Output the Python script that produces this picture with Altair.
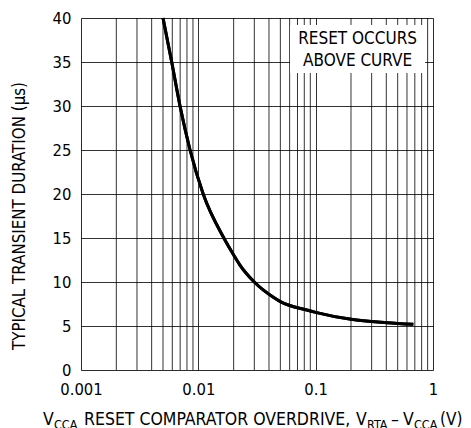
import altair as alt
import pandas as pd

# Curve
overdrive = [0.005, 0.00593, 0.00698, 0.0085, 0.011, 0.0165, 0.02, 0.0227, 0.030, 0.0436, 0.05, 0.084, 0.1, 0.2, 0.404, 0.68]
duration = [40, 35, 30, 25, 20, 15, 13.07, 11.9, 10, 8.26, 7.77, 6.82, 6.55, 5.76, 5.38, 5.19]

x_decades = [0.001, 0.01, 0.1, 1]
x_minor = [m * d for d in [0.001, 0.01, 0.1] for m in range(2, 10)]
y_ticks = [0, 5, 10, 15, 20, 25, 30, 35, 40]

note_lines = ["RESET OCCURS", "ABOVE CURVE"]
note_x = [0.2276, 0.2276]
note_y = [37.6, 35.1]
box = {"x1": [0.0605], "x2": [0.857], "y1": [39.2], "y2": [33.75]}

FONT = "DejaVu Sans Condensed, Liberation Sans Narrow, sans-serif"

xs = alt.Scale(type="log", domain=[0.001, 1])
ys = alt.Scale(domain=[0, 40])

curve_df = pd.DataFrame({"x": overdrive, "y": duration})

base = alt.Chart(curve_df).mark_line(color="black", strokeWidth=3, interpolate="monotone").encode(
    x=alt.X("x:Q", scale=xs, axis=alt.Axis(values=x_decades, format="~g", grid=True, gridColor="black",
                                            gridOpacity=0.8, ticks=False, domain=False, labelPadding=11,
                                            labelFont=FONT, labelFontSize=16.5, labelColor="black",
                                            labelFlush=False, title=None)),
    y=alt.Y("y:Q", scale=ys, axis=alt.Axis(values=y_ticks, grid=True, gridColor="black", gridOpacity=0.8,
                                            ticks=False, domain=False, labelPadding=10, labelFont=FONT,
                                            labelFontSize=16.5, labelColor="black", title=None)),
)

minor = alt.Chart(pd.DataFrame({"x": x_minor})).mark_rule(color="black", opacity=0.8, strokeWidth=1).encode(
    x=alt.X("x:Q", scale=xs)
)

box_layer = alt.Chart(pd.DataFrame(box)).mark_rect(color="white").encode(
    x=alt.X("x1:Q", scale=xs), x2="x2:Q", y=alt.Y("y1:Q", scale=ys), y2="y2:Q"
)

note = alt.Chart(pd.DataFrame({"t": note_lines, "x": note_x, "y": note_y})).mark_text(
    font=FONT, fontSize=17, color="black", align="center", baseline="middle"
).encode(x=alt.X("x:Q", scale=xs), y=alt.Y("y:Q", scale=ys), text="t:N")


def label(text, px, py, size, angle=0, align="left", baseline="alphabetic"):
    kw = dict(font=FONT, fontSize=size, color="black", align=align, baseline=baseline)
    if angle:
        kw["angle"] = angle
    return alt.Chart(pd.DataFrame({"t": [text]})).mark_text(**kw).encode(
        text="t:N", x=alt.value(px), y=alt.value(py)
    )


MAIN_Y = 407
SUB_Y = 411
TS = 17.5
SS = 12.5
title_parts = [
    label("V", -38, MAIN_Y, TS),
    label("CCA", -27, SUB_Y, SS),
    label("RESET COMPARATOR OVERDRIVE,", 3, MAIN_Y, TS),
    label("V", 275, MAIN_Y, TS),
    label("RTA", 286, SUB_Y, SS),
    label("–", 310, MAIN_Y, TS),
    label("V", 322, MAIN_Y, TS),
    label("CCA", 333, SUB_Y, SS),
    label("(V)", 359, MAIN_Y, 17),
    label("TYPICAL TRANSIENT DURATION (µs)", -61, 198, 16.8, angle=270, align="center", baseline="middle"),
]

chart = alt.layer(minor, base, box_layer, note, base, *title_parts).properties(
    width=352, height=352,
    autosize=alt.AutoSizeParams(type="none"),
    padding={"left": 73, "top": 10, "right": 30, "bottom": 58},
).configure_view(stroke="black", strokeWidth=2).configure(background="white")

chart.save("out.html", embed_options={"renderer": "svg", "actions": False})
